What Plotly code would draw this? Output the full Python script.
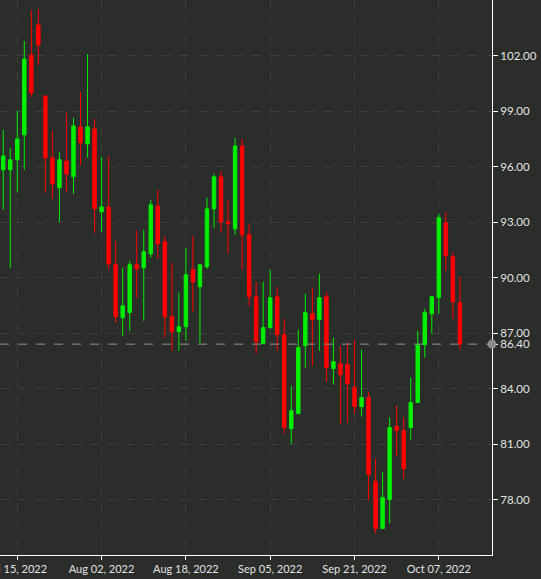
import pandas as pd
import plotly.graph_objects as go

# Trading days shown on the chart (weekdays, Jul 13 - Oct 12 2022)
dates = pd.bdate_range('2022-07-13', '2022-10-12').strftime('%Y-%m-%d').tolist()

open_ = [95.82, 95.82, 96.36, 97.71, 102.03, 103.65, 99.81, 96.47, 94.85, 96.30,
         95.44, 98.14, 97.22, 98.03, 93.55, 93.82, 90.69, 87.83, 88.10, 90.69,
         90.53, 91.28, 93.87, 91.93, 87.88, 87.07, 87.34, 90.42, 89.50, 90.58,
         93.71, 95.44, 93.01, 92.63, 97.11, 92.31, 88.96, 86.42, 87.29, 88.96,
         86.91, 81.83, 82.64, 86.31, 88.04, 87.72, 88.96, 85.07, 85.34, 85.29,
         84.05, 83.02, 83.51, 78.97, 76.43, 78.00, 81.94, 81.73, 81.89, 83.24,
         86.37, 88.04, 88.91, 92.96, 91.12, 88.64]
high = [97.98, 97.01, 99.00, 102.78, 104.46, 104.51, 99.85, 97.92, 96.79, 98.90,
        98.63, 100.03, 102.08, 98.57, 96.52, 96.57, 91.98, 90.53, 90.90, 92.52,
        92.58, 94.20, 94.74, 92.25, 90.80, 89.18, 91.61, 92.25, 90.69, 94.31,
        95.60, 95.76, 94.20, 97.55, 97.49, 92.90, 89.77, 89.77, 90.42, 89.50,
        87.77, 84.15, 87.18, 89.12, 89.45, 90.20, 89.23, 86.75, 86.31, 86.48,
        86.64, 86.10, 83.83, 80.21, 79.51, 82.43, 83.07, 82.43, 84.59, 87.12,
        88.31, 89.01, 93.44, 93.55, 91.34, 90.04]
low = [93.66, 90.53, 94.58, 95.82, 99.76, 101.49, 94.58, 94.25, 93.01, 94.63,
       94.52, 96.09, 96.47, 92.42, 92.47, 90.42, 87.56, 86.85, 87.12, 88.91,
       87.66, 91.07, 91.01, 86.75, 86.04, 86.04, 86.58, 88.15, 86.48, 90.47,
       92.69, 92.42, 91.28, 92.31, 90.42, 88.47, 85.88, 86.42, 87.23, 86.04,
       81.56, 81.02, 82.64, 85.13, 85.23, 86.04, 84.37, 84.21, 82.05, 82.16,
       82.64, 82.48, 77.95, 76.16, 76.43, 76.70, 80.32, 79.13, 81.24, 83.24,
       85.67, 86.96, 88.04, 90.36, 87.77, 86.10]
close = [96.57, 96.36, 97.49, 101.81, 99.98, 102.57, 96.47, 95.06, 96.36, 95.60,
         98.19, 97.28, 98.14, 93.71, 93.82, 90.74, 87.88, 88.47, 90.69, 90.47,
         91.39, 93.93, 91.82, 87.88, 87.07, 87.34, 90.15, 89.77, 90.69, 93.71,
         95.44, 93.01, 92.90, 97.11, 92.31, 88.96, 86.53, 87.29, 88.91, 86.91,
         81.89, 82.80, 86.21, 88.10, 87.72, 88.91, 85.13, 85.45, 84.75, 84.26,
         83.02, 83.51, 79.35, 76.43, 78.11, 81.89, 81.73, 79.67, 83.24, 86.37,
         88.10, 88.96, 93.23, 91.17, 88.69, 86.40]

tick_dates = ['2022-07-15', '2022-08-02', '2022-08-18', '2022-09-05', '2022-09-21', '2022-10-07']
tick_labels = ['Jul 15, 2022', 'Aug 02, 2022', 'Aug 18, 2022', 'Sep 05, 2022', 'Sep 21, 2022', 'Oct 07, 2022']
price_ticks = [78, 81, 84, 86.40, 87, 90, 93, 96, 99, 102]
last_price = close[-1]

# one slot per trading day, so weekends leave no gaps
day_pos = list(range(len(dates)))
tick_pos = [dates.index(d) for d in tick_dates]

bg = '#2b2d2b'
grid = '#3d3f3d'
green = '#00ee00'
red = '#ff0000'

fig = go.Figure(go.Candlestick(
    x=day_pos, open=open_, high=high, low=low, close=close,
    increasing=dict(line=dict(color=green, width=1), fillcolor=green),
    decreasing=dict(line=dict(color=red, width=1), fillcolor=red),
    whiskerwidth=0, hoverinfo='skip', showlegend=False,
))

# last price line and dot on the axis
fig.add_shape(type='line', xref='paper', x0=0, x1=1, yref='y', y0=last_price, y1=last_price,
              line=dict(color='#8c8c8c', width=1, dash='dash'))
fig.add_shape(type='circle', xref='paper', xsizemode='pixel', xanchor=1, x0=-4.5, x1=4.5,
              yref='y', ysizemode='pixel', yanchor=last_price, y0=-4.5, y1=4.5,
              fillcolor='#8c8c8c', line=dict(width=0))

fig.update_layout(
    width=541, height=579,
    margin=dict(l=0, r=49, t=0, b=24),
    paper_bgcolor=bg, plot_bgcolor=bg,
    font=dict(family='Lato', size=11, color='#e2e2e2'),
    xaxis=dict(type='linear', range=[-0.46, 69.57], autorange=False, automargin=False,
               rangeslider=dict(visible=False),
               tickvals=tick_pos, ticktext=tick_labels, ticklabeloverflow='allow',
               tickfont=dict(size=11),
               showline=True, linecolor='#ffffff', linewidth=1,
               ticks='outside', ticklen=4, tickcolor='#ffffff',
               showgrid=True, gridcolor=grid, griddash='dash', zeroline=False),
    yaxis=dict(side='right', range=[75, 105], automargin=False,
               tickvals=price_ticks, ticktext=['%.2f' % v for v in price_ticks],
               tickfont=dict(size=11.5),
               showline=True, linecolor='#ffffff', linewidth=1,
               ticks='outside', ticklen=5, tickcolor='#ffffff',
               showgrid=True, gridcolor=grid, griddash='dash', zeroline=False),
)

# drop the browser's default page margin so the chart fills the window
fig.write_html('out.html', config={'displayModeBar': False},
               post_script="document.body.style.margin='0';"
                           "document.body.style.background='#2b2d2b';")
